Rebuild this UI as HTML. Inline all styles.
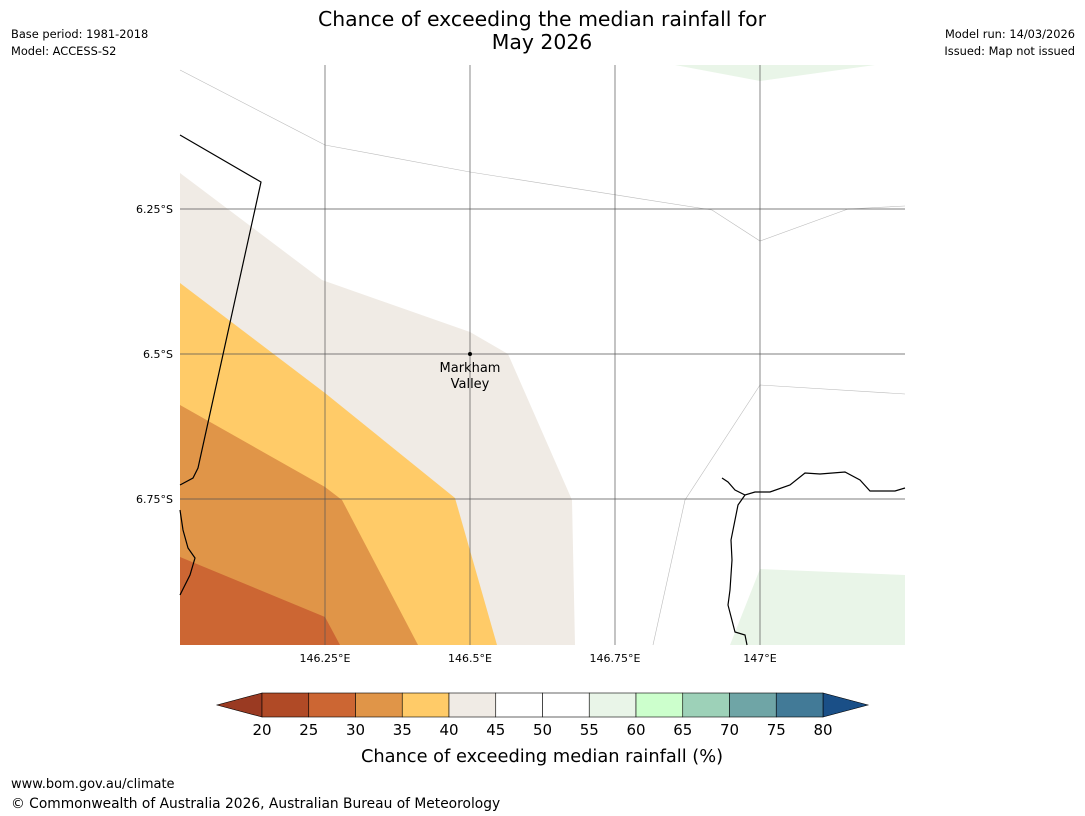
<!DOCTYPE html>
<html><head><meta charset="utf-8"><style>
body{margin:0;background:#fff;width:1085px;height:816px;overflow:hidden;font-family:"Liberation Sans","DejaVu Sans",sans-serif;}
svg{position:absolute;left:0;top:0}
</style></head><body>
<svg id="s" width="1085" height="816" xmlns="http://www.w3.org/2000/svg">
<text x="542" y="26" font-size="20.4" text-anchor="middle" font-family="DejaVu Sans, sans-serif">Chance of exceeding the median rainfall for</text>
<text x="542" y="49" font-size="20.4" text-anchor="middle" font-family="DejaVu Sans, sans-serif">May 2026</text>
<g font-size="11.4" font-family="DejaVu Sans, sans-serif">
<text x="11" y="38">Base period: 1981-2018</text>
<text x="11" y="55">Model: ACCESS-S2</text>
<text x="1075" y="38" text-anchor="end">Model run: 14/03/2026</text>
<text x="1075" y="55" text-anchor="end">Issued: Map not issued</text>
</g>
<g>
<polygon points="180,173 322,280 470,332 508,354 572,500 575,645 180,645" fill="#f0ebe5"/>
<polygon points="180,283 325,393 455,498 497,645 180,645" fill="#ffcb68"/>
<polygon points="180,405 325,487 342,500 418,645 180,645" fill="#e09548"/>
<polygon points="180,557 325,617 340,645 180,645" fill="#cc6633"/>
<polygon points="675,65 760,81 875,65" fill="#e9f5e8"/>
<polygon points="760,569 905,575 905,645 730,645" fill="#e9f5e8"/>
<g fill="none" stroke="#bbb" stroke-width="0.6">
<polyline points="180,70 325,145 470,172 712,210 760,241 848,209 905,206"/>
<polyline points="653,645 685,500 760,385 905,394"/>
</g>
<g stroke="#555" stroke-width="0.7">
<line x1="325" y1="65" x2="325" y2="645"/><line x1="470" y1="65" x2="470" y2="645"/>
<line x1="615" y1="65" x2="615" y2="645"/><line x1="760" y1="65" x2="760" y2="645"/>
<line x1="180" y1="209" x2="905" y2="209"/><line x1="180" y1="354" x2="905" y2="354"/>
<line x1="180" y1="499" x2="905" y2="499"/>
</g>
<g fill="none" stroke="#000" stroke-width="1.2">
<polyline points="180,135 261,182 198,468 193,478 180,485"/>
<polyline points="180,510 183,530 188,548 195,558 190,575 180,595"/>
<polyline points="722,478 728,482 735,490 745,495 755,492 770,492 790,485 805,473 820,474 845,472 860,480 870,491 895,491 905,488"/>
<polyline points="745,495 738,505 731,540 732,560 730,590 728,605 735,632 745,635 747,645"/>
</g>
<circle cx="470" cy="354" r="2" fill="#000"/>
<text x="470" y="372" font-size="13" text-anchor="middle" font-family="DejaVu Sans, sans-serif">Markham</text>
<text x="470" y="388" font-size="13" text-anchor="middle" font-family="DejaVu Sans, sans-serif">Valley</text>
</g>
<g font-size="11" font-family="DejaVu Sans, sans-serif">
<text x="173" y="213" text-anchor="end">6.25°S</text>
<text x="173" y="358" text-anchor="end">6.5°S</text>
<text x="173" y="503" text-anchor="end">6.75°S</text>
<text x="325" y="662" text-anchor="middle">146.25°E</text>
<text x="470" y="662" text-anchor="middle">146.5°E</text>
<text x="615" y="662" text-anchor="middle">146.75°E</text>
<text x="760" y="662" text-anchor="middle">147°E</text>
</g>
<g id="cb"></g>
<text x="542" y="762" font-size="17.8" text-anchor="middle" font-family="DejaVu Sans, sans-serif">Chance of exceeding median rainfall (%)</text>
<text x="11" y="788" font-size="13" font-family="DejaVu Sans, sans-serif">www.bom.gov.au/climate</text>
<text x="11" y="808" font-size="13.8" font-family="DejaVu Sans, sans-serif">© Commonwealth of Australia 2026, Australian Bureau of Meteorology</text>
</svg>
<script>
const ticks=[20,25,30,35,40,45,50,55,60,65,70,75,80];
const colors=["#b04a26","#cc6633","#e09548","#ffcb68","#f0ebe5","#ffffff","#ffffff","#e9f5e8","#ccffcc","#9dd1b8","#6fa5a6","#427a97"];
const underColor="#9a3a22", overColor="#1a4f87";
const NS="http://www.w3.org/2000/svg";
const g=document.getElementById('cb');
const x=v=>262+(v-20)*(823-262)/60;
const y0=693,y1=717;
function mk(t,a){const e=document.createElementNS(NS,t);for(const k in a)e.setAttribute(k,a[k]);g.appendChild(e);return e;}
const u=mk('polygon',{points:`${x(20)},${y0} ${x(20)},${y1} 217,${(y0+y1)/2}`,fill:underColor,stroke:'#000','stroke-width':0.6});


const o=mk('polygon',{points:`${x(80)},${y0} ${x(80)},${y1} 868,${(y0+y1)/2}`,fill:overColor,stroke:'#000','stroke-width':0.6});


colors.forEach((c,i)=>{
 const r=mk('rect',{x:x(ticks[i]),y:y0,width:x(ticks[i+1])-x(ticks[i]),height:y1-y0,fill:c,stroke:'#000','stroke-width':0.6});
 
 
});
ticks.forEach(t=>{
 const tx=mk('text',{x:x(t),y:735,'font-size':15,'text-anchor':'middle','font-family':'DejaVu Sans, sans-serif'});
 tx.textContent=t;
 
 
});
</script>
</body></html>
